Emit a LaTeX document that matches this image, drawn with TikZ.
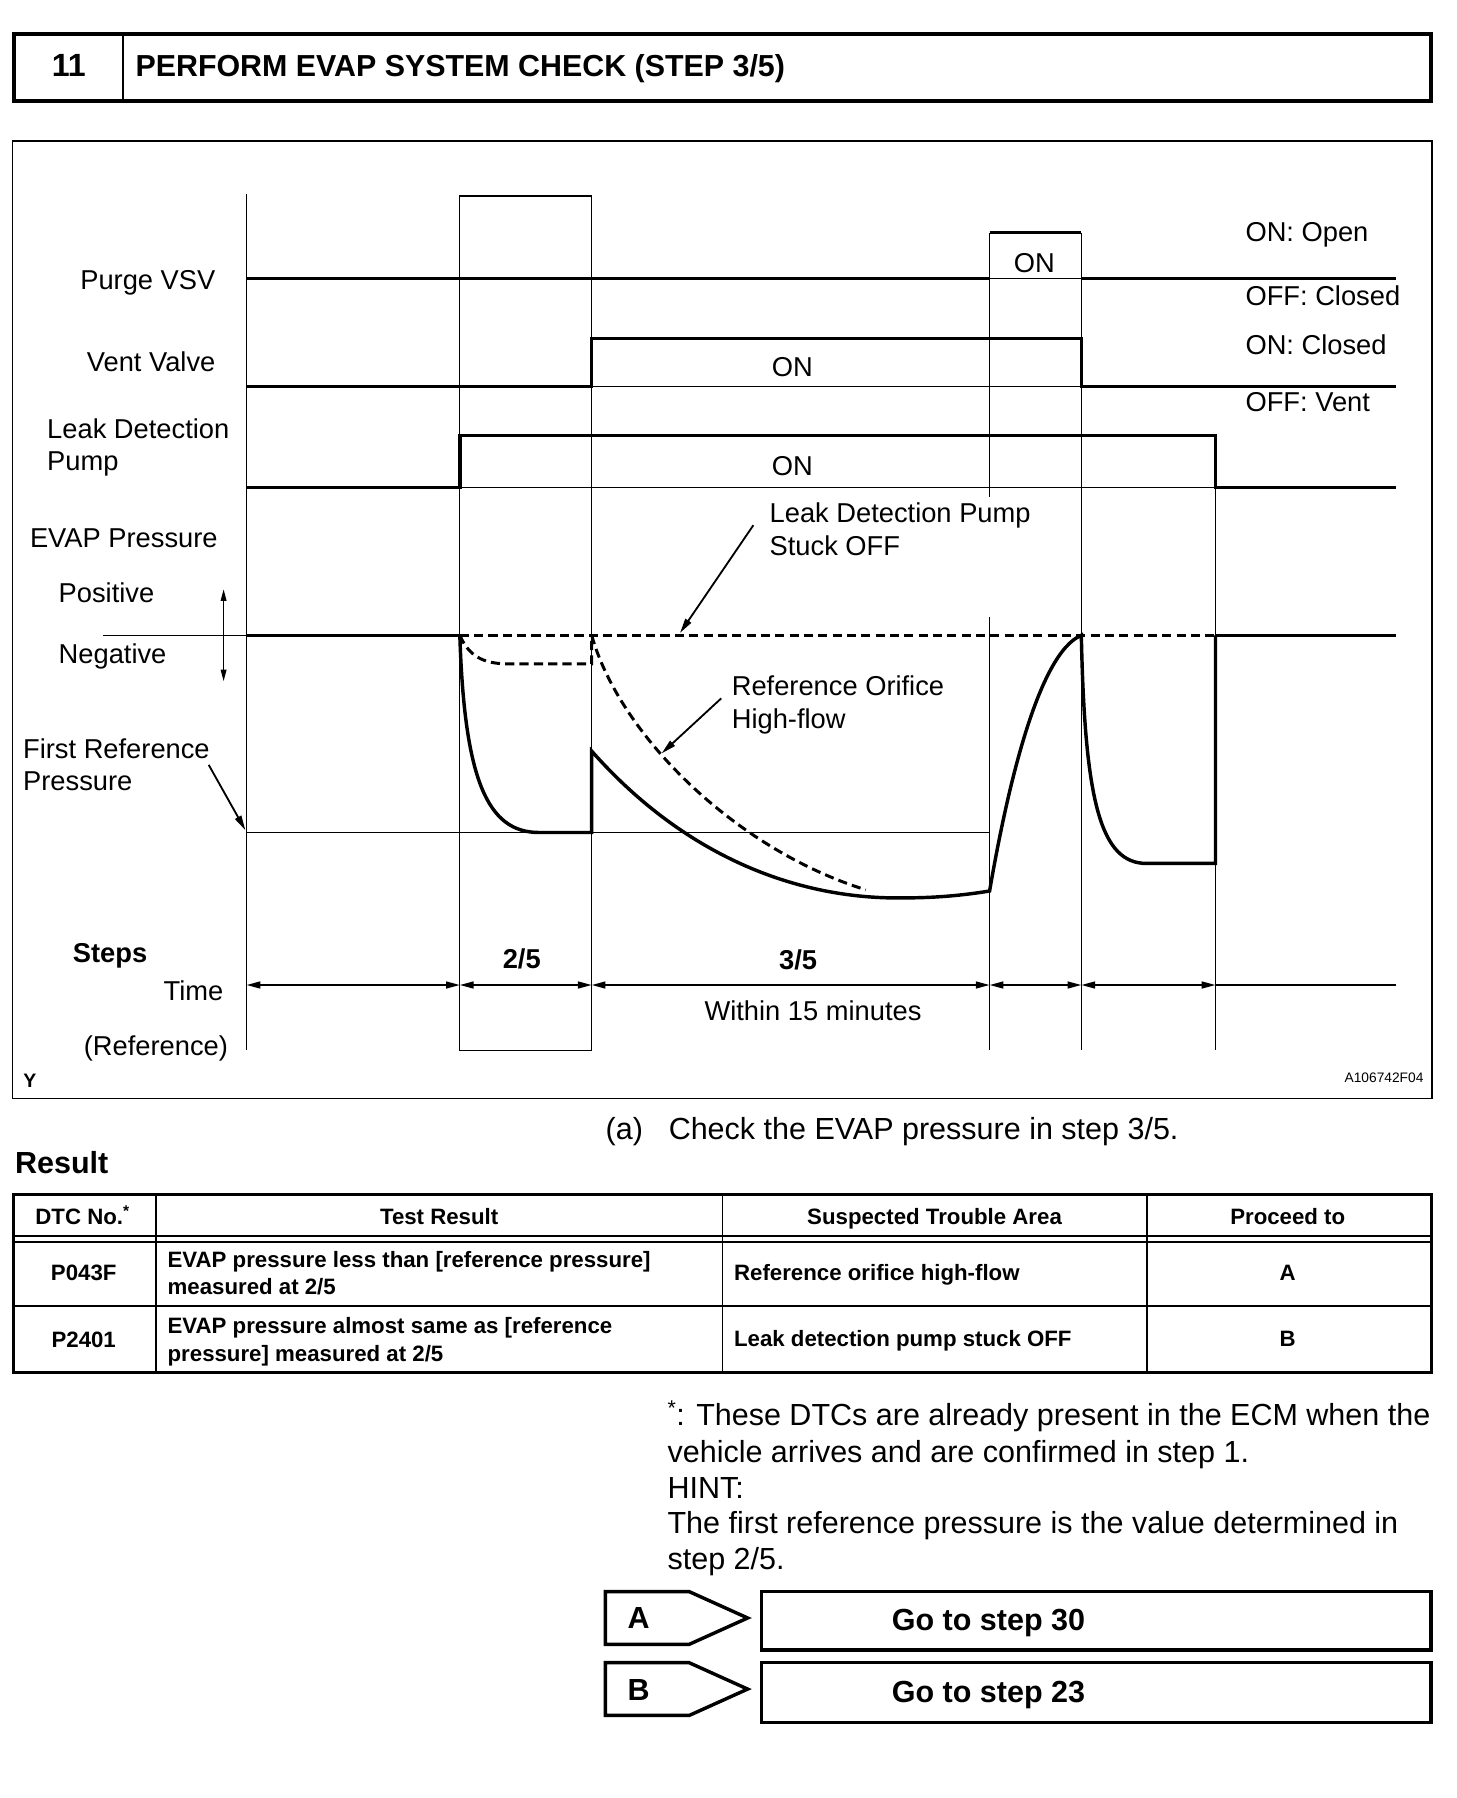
\documentclass[tikz,border=0pt]{standalone}
\usepackage{fontspec}
\setmainfont{Liberation Sans}
\usetikzlibrary{arrows.meta}

\begin{document}
\begin{tikzpicture}[x=1pt,y=-1pt,
  sig/.style={line width=3pt},
  gridln/.style={line width=1.1pt},
  pdash/.style={line width=2.6pt, dash pattern=on 8pt off 4.5pt},
  lbl/.style={inner sep=0pt, text height=17.1pt, text depth=0pt, font=\fontsize{23.8}{28}\selectfont},
  tbl/.style={inner sep=0pt, text height=14pt, text depth=0pt, font=\fontsize{19.4}{24}\selectfont\bfseries},
  body/.style={inner sep=0pt, text height=19.1pt, text depth=0pt, font=\fontsize{26.6}{32}\selectfont},
  tarrow/.style={line width=1.5pt, {Triangle[length=12pt,width=6pt]}-{Triangle[length=12pt,width=6pt]}},
  pointer/.style={line width=1.6pt, -{Triangle[length=13pt,width=6pt]}}
]
\useasboundingbox (0,0) rectangle (1270,1568);

% title bar
\draw[line width=3.5pt] (12,30) rectangle (1248,88);
\draw[line width=2pt] (107,30) -- (107,88);
\node[body, font=\fontsize{28}{32}\selectfont\bfseries, text height=20pt] (stepNo) at (60,57) {11};
\node[body, anchor=west, font=\fontsize{26.5}{32}\selectfont\bfseries] (title) at (118,57) {PERFORM EVAP SYSTEM CHECK (STEP 3/5)};

% chart frame
\draw[line width=1.5pt] (11,123) rectangle (1249,958);

% grid
\draw[line width=1.6pt] (215,169) -- (215,916);
\draw[gridln] (401,171) rectangle (516,916);
\draw[gridln] (863,203) -- (863,433);
\draw[gridln] (863,538) -- (863,916);
\draw[gridln] (943,203) -- (943,916);
\draw[gridln] (1060,380) -- (1060,916);
\draw[gridln] (215,726) -- (863,726);

% purge VSV
\draw[sig] (215,243) -- (863,243);
\draw[sig] (863,203) -- (943,203);
\draw[gridln] (863,243) -- (943,243);
\draw[sig] (943,243) -- (1217,243);
\node[lbl] (purgeOn) at (902,229) {ON};

% vent valve
\draw[sig] (215,337) -- (516,337) -- (516,295) -- (943,295) -- (943,337) -- (1217,337);
\draw[gridln] (516,337) -- (943,337);
\node[lbl] (ventOn) at (691,320) {ON};

% leak detection pump
\draw[sig] (215,425) -- (401,425) -- (401,380) -- (1060,380) -- (1060,425) -- (1217,425);
\draw[gridln] (401,425) -- (1060,425);
\node[lbl] (pumpOn) at (691,406) {ON};

% EVAP pressure
\draw[gridln] (90,554) -- (215,554);
\draw[sig] (215,554) -- (401,554);
\draw[pdash] (401,554) -- (1060,554);
\draw[sig] (1060,554) -- (1217,554);
\draw[sig] (401,554) .. controls (405,680) and (425,726) .. (470,726) -- (516,726) -- (516,655)
  .. controls (600,750) and (700,785) .. (790,783)
  .. controls (820,783) and (845,780) .. (863,777)
  .. controls (878,690) and (905,570) .. (943,554)
  .. controls (946,700) and (960,753) .. (1000,753) -- (1060,753) -- (1060,554);
\draw[pdash] (401,554) .. controls (410,575) and (425,579) .. (445,579) -- (516,579) -- (516,554);
\draw[pdash] (516,554) .. controls (540,640) and (640,740) .. (755,776);
\draw[line width=1pt, {Triangle[length=10pt,width=5pt]}-{Triangle[length=10pt,width=5pt]}] (195,514) -- (195,594);

% left labels
\node[lbl, anchor=east] (purgeLbl) at (188,244) {Purge VSV};
\node[lbl, anchor=east] (ventLbl) at (188,315) {Vent Valve};
\node[lbl, anchor=west] (pumpLbl) at (41,374) {Leak Detection};
\node[lbl, anchor=west] (pumpLblB) at (41,402) {Pump};
\node[lbl, anchor=west] (evapLbl) at (26,469) {EVAP Pressure};
\node[lbl, anchor=west] (posLbl) at (51,517) {Positive};
\node[lbl, anchor=west] (negLbl) at (51,570) {Negative};
\node[lbl, anchor=west] (frefLbl) at (20,653) {First Reference};
\node[lbl, anchor=west] (frefLblB) at (20,681) {Pressure};
\node[lbl, font=\fontsize{23.8}{28}\selectfont\bfseries] (stepsLbl) at (96,831) {Steps};
\node[lbl, anchor=east] (timeLbl) at (195,864) {Time};
\node[lbl, anchor=east] (refLbl) at (199,912) {(Reference)};
\node[lbl, font=\fontsize{17}{20}\selectfont\bfseries, text height=12.3pt] (yMark) at (26,942) {Y};

% right labels
\node[lbl, anchor=west] (onOpen) at (1086,202) {ON: Open};
\node[lbl, anchor=west] (offClosed) at (1086,258) {OFF: Closed};
\node[lbl, anchor=west] (onClosed) at (1086,301) {ON: Closed};
\node[lbl, anchor=west] (offVent) at (1086,350) {OFF: Vent};

% callouts
\node[lbl, anchor=west] (stuckLbl) at (671,447) {Leak Detection Pump};
\node[lbl, anchor=west] (stuckLblB) at (671,476) {Stuck OFF};
\node[lbl, anchor=west] (orfLbl) at (638,598) {Reference Orifice};
\node[lbl, anchor=west] (orfLblB) at (638,627) {High-flow};
\coordinate (stuckTip) at (593,552);
\coordinate (orfTip) at (577,657);
\coordinate (frefTip) at (214,724);
\draw[pointer] (657,458) -- (stuckTip);
\draw[pointer] (629,609) -- (orfTip);
\draw[pointer] (182,667) -- (frefTip);

% time axis
\node[lbl, font=\fontsize{23.8}{28}\selectfont\bfseries] (stepA) at (455,836) {2/5};
\node[lbl, font=\fontsize{23.8}{28}\selectfont\bfseries] (stepB) at (696,837) {3/5};
\foreach \xa/\xb in {215/401, 401/516, 516/863, 863/943, 943/1060}
  \draw[tarrow] (\xa,859) -- (\xb,859);
\draw[line width=1.5pt] (1060,859) -- (1217,859);
\node[lbl] (withinLbl) at (709,881) {Within 15 minutes};
\node[lbl, font=\fontsize{12}{14}\selectfont, text height=8.6pt] (figNo) at (1207,940) {A106742F04};

% check text
\node[body, anchor=west] (itemA) at (528,984) {(a)};
\node[body, anchor=west] (itemAText) at (583,984) {Check the EVAP pressure in step 3/5.};
\node[body, anchor=west, font=\fontsize{26.6}{32}\selectfont\bfseries] (resultLbl) at (13,1014) {Result};

% result table
\draw[line width=2.6pt] (12,1042) rectangle (1248,1197);
\draw[line width=1.5pt] (12,1078) -- (1248,1078);
\draw[line width=1.5pt] (12,1083) -- (1248,1083);
\draw[line width=1.5pt] (12,1139) -- (1248,1139);
\foreach \xc in {136,630,1000}
  \draw[line width=1.5pt] (\xc,1042) -- (\xc,1197);
\node[tbl] (hDtc) at (72,1061) {DTC No.\textsuperscript{*}};
\node[tbl] (hTest) at (383,1061) {Test Result};
\node[tbl] (hArea) at (815,1061) {Suspected Trouble Area};
\node[tbl] (hGo) at (1123,1061) {Proceed to};
\node[tbl] (dtcA) at (73,1110) {P043F};
\node[tbl, anchor=west] (testA) at (146,1098) {EVAP pressure less than [reference pressure]};
\node[tbl, anchor=west] (testAB) at (146,1122) {measured at 2/5};
\node[tbl, anchor=west] (areaA) at (640,1110) {Reference orifice high-flow};
\node[tbl] (goA) at (1123,1110) {A};
\node[tbl] (dtcB) at (73,1168) {P2401};
\node[tbl, anchor=west] (testB) at (146,1156) {EVAP pressure almost same as [reference};
\node[tbl, anchor=west] (testBB) at (146,1180) {pressure] measured at 2/5};
\node[tbl, anchor=west] (areaB) at (640,1167) {Leak detection pump stuck OFF};
\node[tbl] (goB) at (1123,1167) {B};

% notes
\node[body, anchor=west] (noteA) at (582,1234) {\textsuperscript{*}: These DTCs are already present in the ECM when the};
\node[body, anchor=west] (noteB) at (582,1266) {vehicle arrives and are confirmed in step 1.};
\node[body, anchor=west] (noteC) at (582,1297) {HINT:};
\node[body, anchor=west] (noteD) at (582,1328) {The first reference pressure is the value determined in};
\node[body, anchor=west] (noteE) at (582,1359) {step 2/5.};

% result boxes
\draw[line width=3pt] (528,1388) -- (601,1388) -- (652,1411) -- (601,1434) -- (528,1434) -- cycle;
\draw[line width=3pt] (664,1388) rectangle (1248,1439);
\node[body, font=\fontsize{26.6}{32}\selectfont\bfseries] (resA) at (557,1411) {A};
\node[body, font=\fontsize{26.6}{32}\selectfont\bfseries] (goStepA) at (862,1412) {Go to step 30};
\draw[line width=3pt] (528,1450) -- (601,1450) -- (652,1473) -- (601,1496) -- (528,1496) -- cycle;
\draw[line width=3pt] (664,1450) rectangle (1248,1502);
\node[body, font=\fontsize{26.6}{32}\selectfont\bfseries] (resB) at (557,1473) {B};
\node[body, font=\fontsize{26.6}{32}\selectfont\bfseries] (goStepB) at (862,1475) {Go to step 23};
\end{tikzpicture}
\end{document}
